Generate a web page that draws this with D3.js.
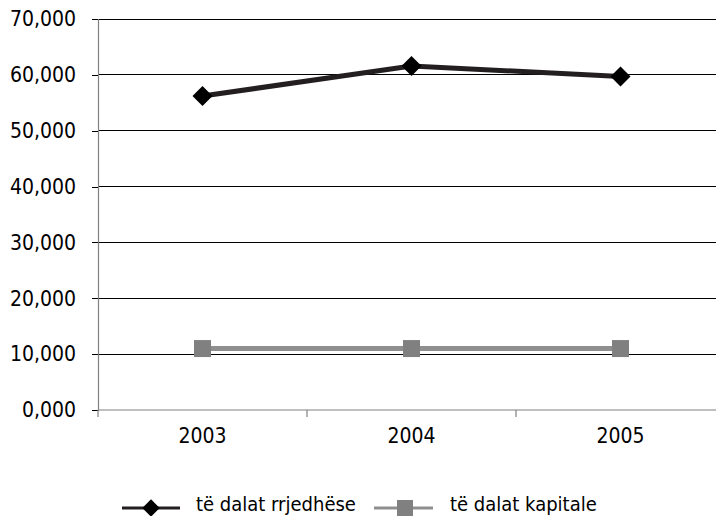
<!DOCTYPE html>
<html>
<head>
<meta charset="utf-8">
<script src="https://cdn.jsdelivr.net/npm/d3@7"></script>
<style>
  html, body { margin: 0; padding: 0; background: #ffffff; }
  svg { display: block; }
  text { font-family: "DejaVu Sans Condensed", "DejaVu Sans", sans-serif; fill: #000; }
</style>
</head>
<body>
<svg id="chart" width="716" height="516"></svg>
<script>
// Years on the category axis
const years = ["2003", "2004", "2005"];
// Current outflows (të dalat rrjedhëse)
const currentOut = [56200, 61600, 59700];
// Capital outflows (të dalat kapitale)
const capitalOut = [11000, 11000, 11000];
// Value-axis ticks
const yTicks = [0, 10000, 20000, 30000, 40000, 50000, 60000, 70000];
const seriesNames = ["të dalat rrjedhëse", "të dalat kapitale"];

const svg = d3.select("#chart");
const plot = { left: 98, right: 725, top: 19, bottom: 410 };

const x = d3.scaleBand().domain(years).range([plot.left, plot.right]);
const y = d3.scaleLinear().domain([0, 70000]).range([plot.bottom, plot.top]);
const fmt = v => d3.format(",")(v / 1000) + ",000";

// Horizontal gridlines
svg.append("g").selectAll("line").data(yTicks.filter(v => v > 0)).join("line")
  .attr("x1", plot.left).attr("x2", plot.right)
  .attr("y1", d => y(d)).attr("y2", d => y(d))
  .attr("stroke", "#000").attr("stroke-width", 1).attr("shape-rendering", "crispEdges");

// Value axis
const yAxis = svg.append("g").attr("transform", `translate(${plot.left},0)`)
  .call(d3.axisLeft(y).tickValues(yTicks).tickFormat(fmt).tickSize(6).tickPadding(16));
yAxis.select(".domain").attr("stroke", "#808080").attr("stroke-width", 1.2);
yAxis.selectAll(".tick line").attr("stroke", "#000").attr("shape-rendering", "crispEdges");
yAxis.selectAll(".tick text").style("font-size", "21px")
  .style("font-family", '"DejaVu Sans Condensed", "DejaVu Sans", sans-serif');

// Category axis with ticks between years
const xAxis = svg.append("g").attr("transform", `translate(0,${plot.bottom})`);
xAxis.append("line").attr("x1", plot.left).attr("x2", plot.right)
  .attr("y1", 0).attr("y2", 0).attr("stroke", "#808080").attr("stroke-width", 1.2);
const bounds = years.map(d => x(d)).concat([x(years[years.length - 1]) + x.bandwidth()]);
xAxis.selectAll("line.tk").data(bounds).join("line").attr("class", "tk")
  .attr("x1", d => d).attr("x2", d => d).attr("y1", 0).attr("y2", 7)
  .attr("stroke", "#808080").attr("stroke-width", 1.2);
xAxis.selectAll("text").data(years).join("text")
  .attr("x", d => x(d) + x.bandwidth() / 2).attr("y", 33)
  .attr("text-anchor", "middle").style("font-size", "21px").text(d => d);

const cx = d => x(d) + x.bandwidth() / 2;
const diamond = d3.symbol().type(d3.symbolSquare).size(200);

// Capital outflows line
svg.append("path").datum(capitalOut)
  .attr("fill", "none").attr("stroke", "#8f8f8f").attr("stroke-width", 5)
  .attr("d", d3.line().x((d, i) => cx(years[i])).y(d => y(d)));
svg.append("g").selectAll("rect").data(capitalOut).join("rect")
  .attr("x", (d, i) => cx(years[i]) - 8.5).attr("y", d => y(d) - 8.5)
  .attr("width", 17).attr("height", 17).attr("fill", "#808080");

// Current outflows line
svg.append("path").datum(currentOut)
  .attr("fill", "none").attr("stroke", "#231f20").attr("stroke-width", 5)
  .attr("d", d3.line().x((d, i) => cx(years[i])).y(d => y(d)));
svg.append("g").selectAll("path").data(currentOut).join("path")
  .attr("d", diamond)
  .attr("transform", (d, i) => `translate(${cx(years[i])},${y(d)}) rotate(45)`)
  .attr("fill", "#000");

// Legend
const lg = svg.append("g");
lg.append("line").attr("x1", 122).attr("x2", 180).attr("y1", 508).attr("y2", 508)
  .attr("stroke", "#231f20").attr("stroke-width", 3);
lg.append("path").attr("d", d3.symbol().type(d3.symbolSquare).size(150))
  .attr("transform", "translate(151,508) rotate(45)").attr("fill", "#000");
lg.append("text").attr("x", 196).attr("y", 511).style("font-size", "20px").text(seriesNames[0]);

lg.append("line").attr("x1", 374).attr("x2", 433).attr("y1", 508).attr("y2", 508)
  .attr("stroke", "#8f8f8f").attr("stroke-width", 3);
lg.append("rect").attr("x", 397).attr("y", 500).attr("width", 16).attr("height", 16)
  .attr("fill", "#808080");
lg.append("text").attr("x", 450).attr("y", 511).style("font-size", "20px").text(seriesNames[1]);
</script>
</body>
</html>
